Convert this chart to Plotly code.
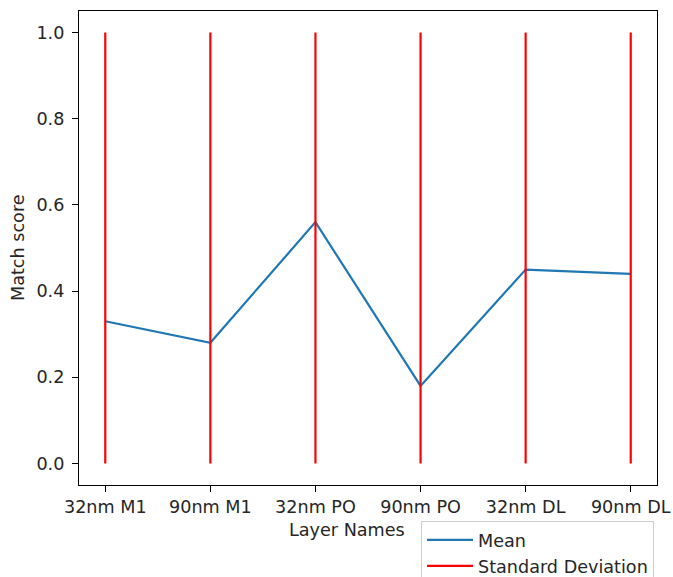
import plotly.graph_objects as go

layers = ["32nm M1", "90nm M1", "32nm PO", "90nm PO", "32nm DL", "90nm DL"]
mean_scores = [0.33, 0.28, 0.56, 0.18, 0.45, 0.44]
std_low = [0, 0, 0, 0, 0, 0]
std_high = [1, 1, 1, 1, 1, 1]
y_ticks = [0.0, 0.2, 0.4, 0.6, 0.8, 1.0]

FONT = "DejaVu Sans"
FS = 17.6

W, H = 673, 577
L, R, T, B = 79, 16, 11, 92
PW, PH = W - L - R, H - T - B

fig = go.Figure()

fig.add_trace(go.Scatter(
    x=list(range(len(layers))), y=mean_scores, mode="lines",
    line=dict(color="#1f77b4", width=2.2), name="Mean",
))

# vertical std lines
xs, ys = [], []
for i, (lo, hi) in enumerate(zip(std_low, std_high)):
    xs += [i, i, None]
    ys += [lo, hi, None]
fig.add_trace(go.Scatter(
    x=xs, y=ys, mode="lines", line=dict(color="#ff0000", width=2.2),
    name="Standard Deviation",
))

fig.update_layout(
    width=W, height=H,
    margin=dict(l=L, r=R, t=T, b=B, autoexpand=False),
    paper_bgcolor="white", plot_bgcolor="white",
    font=dict(family=FONT, size=FS, color="#262626"),
    showlegend=True,
    legend=dict(
        x=(421 - L) / PW, y=(T + PH - 521) / PH,
        xanchor="left", yanchor="top",
        bgcolor="white", bordercolor="#cccccc", borderwidth=1,
        font=dict(family=FONT, size=FS, color="#262626"),
        tracegroupgap=0, itemwidth=46,
    ),
    xaxis=dict(
        tickmode="array", tickvals=list(range(len(layers))), ticktext=layers,
        range=[-0.25, 5.25], showgrid=False, zeroline=False,
        showline=True, linecolor="black", linewidth=1.2, mirror=True,
        ticks="outside", ticklen=6, tickwidth=1.2, tickcolor="black",
        tickfont=dict(family=FONT, size=FS, color="#262626"),
        automargin=False,
    ),
    yaxis=dict(
        tickmode="array", tickvals=y_ticks, ticktext=[f"{v:.1f}" for v in y_ticks],
        range=[-0.05, 1.05], showgrid=False, zeroline=False,
        showline=True, linecolor="black", linewidth=1.2, mirror=True,
        ticks="outside", ticklen=6, tickwidth=1.2, tickcolor="black",
        tickfont=dict(family=FONT, size=FS, color="#262626"),
        ticklabelstandoff=4,
        automargin=False,
    ),
    annotations=[
        dict(text="Layer Names", xref="paper", yref="paper",
             x=(347 - L) / PW, y=(T + PH - 530) / PH,
             xanchor="center", yanchor="middle", showarrow=False,
             font=dict(family=FONT, size=FS, color="#262626")),
        dict(text="Match score", xref="paper", yref="paper",
             x=(18 - L) / PW, y=0.5, textangle=-90,
             xanchor="center", yanchor="middle", showarrow=False,
             font=dict(family=FONT, size=FS, color="#262626")),
    ],
)

fig.write_html("out.html")
